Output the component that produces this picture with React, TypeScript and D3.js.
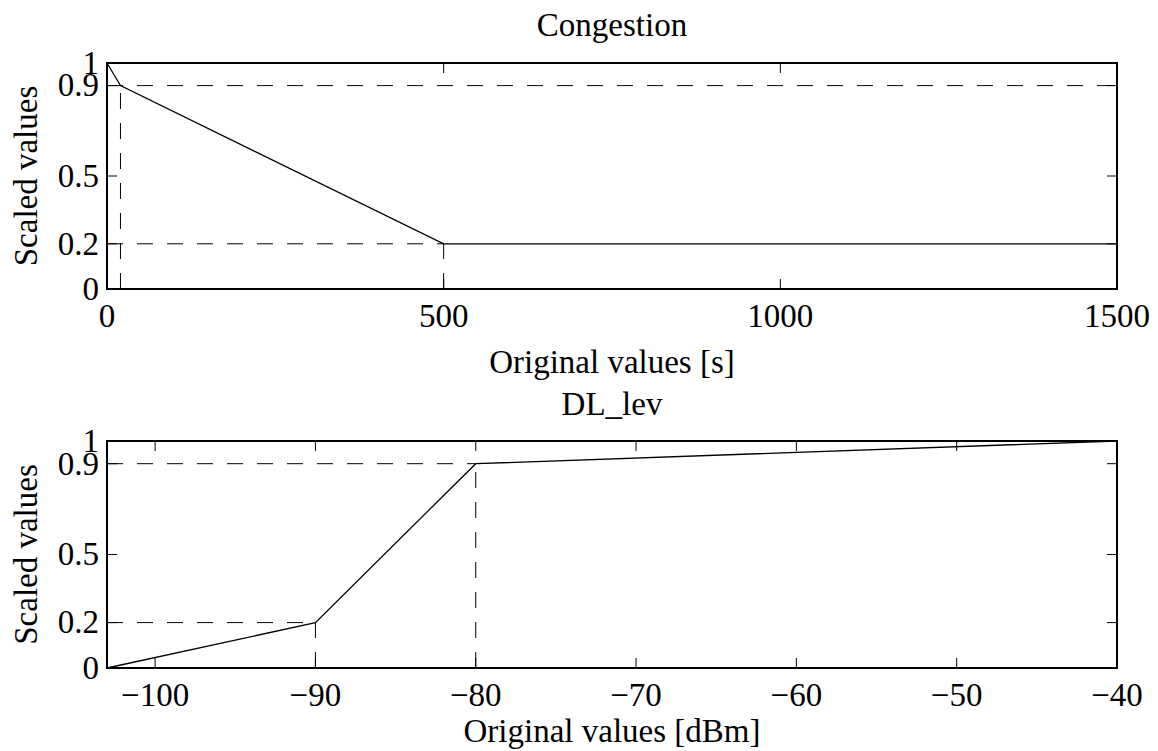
import React from "react";
import * as d3 from "d3";

// Congestion scaling curve: original value [s] -> scaled value
const congestionX = [0, 20, 500, 1500];
const congestionY = [1, 0.9, 0.2, 0.2];
const congestionXTicks = [0, 500, 1000, 1500];

// DL_lev scaling curve: original value [dBm] -> scaled value
const dlX = [-103, -90, -80, -40];
const dlY = [0, 0.2, 0.9, 1];
const dlXTicks = [-100, -90, -80, -70, -60, -50, -40];

const yTicks = [0, 0.2, 0.5, 0.9, 1];

// Breakpoints marked with dashed guides; "full" runs the horizontal guide to the right edge
const congestionGuides = [
  { x: 20, y: 0.9, full: true },
  { x: 500, y: 0.2, full: false },
];
const dlGuides = [
  { x: -90, y: 0.2, full: false },
  { x: -80, y: 0.9, full: false },
];

const W = 1158;
const H = 751;
const FONT = "'Liberation Serif', 'Times New Roman', serif";
const FS = 33;

type PanelProps = {
  top: number;
  bottom: number;
  xDomain: [number, number];
  xs: number[];
  ys: number[];
  xTicks: number[];
  guides: { x: number; y: number; full: boolean }[];
  title: string;
  titleY: number;
  xLabel: string;
  xLabelY: number;
};

const fmt = (v: number) => (v < 0 ? "\u2212" + Math.abs(v) : String(v));

function Panel(p: PanelProps) {
  const left = 107;
  const right = 1117;
  const x = d3.scaleLinear().domain(p.xDomain).range([left, right]);
  const y = d3.scaleLinear().domain([0, 1]).range([p.bottom, p.top]);
  const tick = 10;
  const line = d3
    .line<number>()
    .x((_, i) => x(p.xs[i]))
    .y((d) => y(d));
  const dash = "16,14";
  return (
    <g>
      {/* dashed guides */}
      {p.guides.map((g, i) => (
        <g key={i} stroke="#000" strokeWidth={1} strokeDasharray={dash} fill="none">
          <line x1={x(p.xDomain[0])} x2={g.full ? x(p.xDomain[1]) : x(g.x)} y1={y(g.y)} y2={y(g.y)} />
          <line x1={x(g.x)} x2={x(g.x)} y1={y(0)} y2={y(g.y)} />
        </g>
      ))}
      {/* ticks on all four sides, pointing inward */}
      {p.xTicks.map((t) => (
        <g key={"xt" + t} stroke="#000" strokeWidth={1}>
          <line x1={x(t)} x2={x(t)} y1={p.bottom} y2={p.bottom - tick} />
          <line x1={x(t)} x2={x(t)} y1={p.top} y2={p.top + tick} />
        </g>
      ))}
      {yTicks.map((t) => (
        <g key={"yt" + t} stroke="#000" strokeWidth={1}>
          <line x1={left} x2={left + tick} y1={y(t)} y2={y(t)} />
          <line x1={right} x2={right - tick} y1={y(t)} y2={y(t)} />
        </g>
      ))}
      {/* data line */}
      <path d={line(p.ys) || ""} fill="none" stroke="#000" strokeWidth={1.3} />
      {/* axes box */}
      <rect x={left} y={p.top} width={right - left} height={p.bottom - p.top} fill="none" stroke="#000" strokeWidth={2} />
      {/* tick labels */}
      {p.xTicks.map((t) => (
        <text key={"xl" + t} x={x(t)} y={p.bottom + 38} textAnchor="middle" fontSize={FS} fontFamily={FONT}>
          {fmt(t)}
        </text>
      ))}
      {yTicks.map((t) => (
        <text key={"yl" + t} x={99} y={y(t)} dy="0.33em" textAnchor="end" fontSize={FS} fontFamily={FONT}>
          {String(t)}
        </text>
      ))}
      <text x={(left + right) / 2} y={p.titleY} textAnchor="middle" fontSize={FS} fontFamily={FONT}>
        {p.title}
      </text>
      <text x={(left + right) / 2} y={p.xLabelY} textAnchor="middle" fontSize={FS} fontFamily={FONT}>
        {p.xLabel}
      </text>
      <text
        transform={`translate(37,${(p.top + p.bottom) / 2}) rotate(-90)`}
        textAnchor="middle"
        fontSize={FS}
        fontFamily={FONT}
      >
        Scaled values
      </text>
    </g>
  );
}

export default function App() {
  return (
    <svg width={W} height={H} style={{ position: "absolute", left: 0, top: 0, background: "#fff" }}>
      <rect width={W} height={H} fill="#fff" />
      <Panel
        top={63}
        bottom={289}
        xDomain={[0, 1500]}
        xs={congestionX}
        ys={congestionY}
        xTicks={congestionXTicks}
        guides={congestionGuides}
        title="Congestion"
        titleY={36}
        xLabel="Original values [s]"
        xLabelY={373}
      />
      <Panel
        top={441}
        bottom={668}
        xDomain={[-103, -40]}
        xs={dlX}
        ys={dlY}
        xTicks={dlXTicks}
        guides={dlGuides}
        title="DL_lev"
        titleY={415}
        xLabel="Original values [dBm]"
        xLabelY={742}
      />
    </svg>
  );
}
